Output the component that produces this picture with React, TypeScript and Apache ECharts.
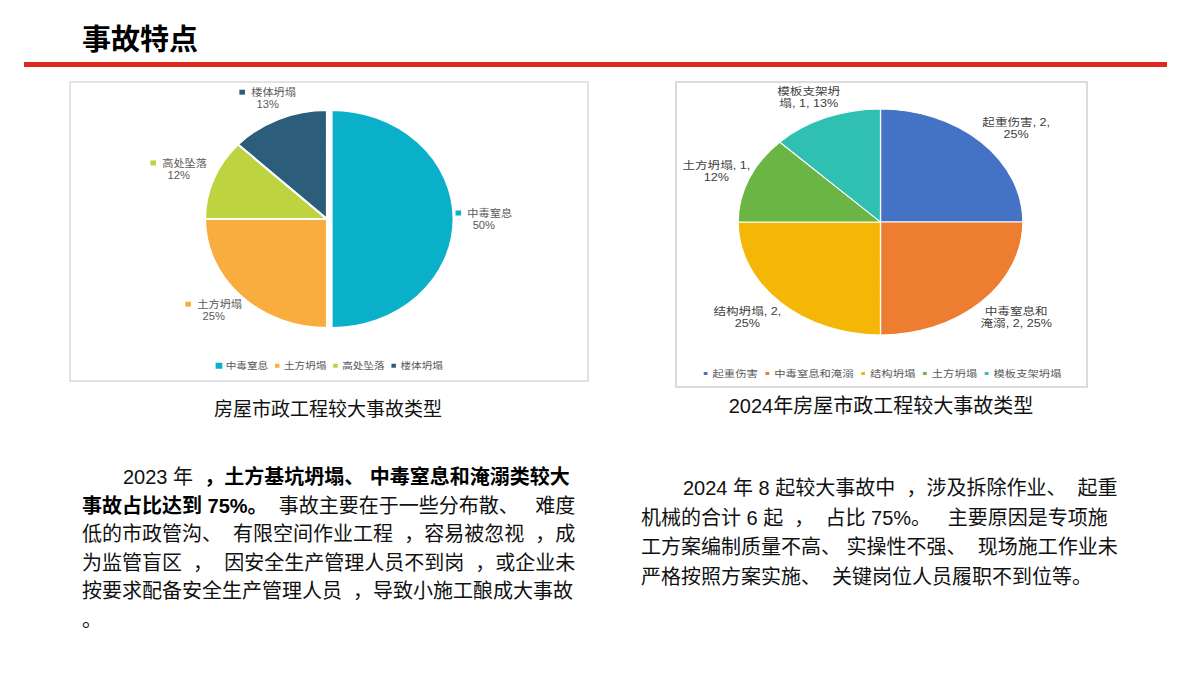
import React, { useEffect, useRef } from 'react';
import * as echarts from 'echarts';

// ---------- data ----------
const pageTitle = '事故特点';

const types2023 = ['中毒窒息', '土方坍塌', '高处坠落', '楼体坍塌'];
const share2023 = [50, 25, 12, 13];
const colors2023 = ['#0AAFC9', '#F9AD3E', '#BDD33F', '#2C5E7C'];
const pulled2023 = [true, false, false, false];
const caption2023 = '房屋市政工程较大事故类型';

const types2024 = ['起重伤害', '中毒窒息和淹溺', '结构坍塌', '土方坍塌', '模板支架坍塌'];
const counts2024 = [2, 2, 2, 1, 1];
const share2024 = [25, 25, 25, 12, 13];
const colors2024 = ['#4472C4', '#ED7D31', '#F4B708', '#6BB544', '#2FC0B2'];
const caption2024 = '2024年房屋市政工程较大事故类型';

// paragraph lines: [text, bold]
const notes2023: [string, boolean][][] = [
  [['2023 年  ', false], ['，土方基坑坍塌、 中毒窒息和淹溺类较大', true]],
  [['事故占比达到 75%。', true], ['  事故主要在于一些分布散、   难度', false]],
  [['低的市政管沟、  有限空间作业工程  ，容易被忽视  ，成', false]],
  [['为监管盲区  ，  因安全生产管理人员不到岗  ，或企业未', false]],
  [['按要求配备安全生产管理人员  ，导致小施工酿成大事故', false]],
  [['。', false]],
];
const notes2024: string[] = [
  '2024 年 8 起较大事故中  ，涉及拆除作业、  起重',
  '机械的合计 6 起  ，  占比 75%。   主要原因是专项施',
  '工方案编制质量不高、 实操性不强、  现场施工作业未',
  '严格按照方案实施、  关键岗位人员履职不到位等。',
];

// ---------- helpers ----------
const CJK = '"Liberation Sans", "Noto Sans CJK SC", sans-serif';
const NONE = 'rgba(0,0,0,0)';

function midAngles(values: number[], start = 90): number[] {
  const total = values.reduce((a, b) => a + b, 0);
  let acc = 0;
  return values.map((v) => {
    const m = start - (360 * (acc + v / 2)) / total;
    acc += v;
    return (m * Math.PI) / 180;
  });
}

function useChart(ref: React.RefObject<HTMLDivElement | null>, option: any) {
  useEffect(() => {
    if (!ref.current) return;
    const chart = echarts.init(ref.current, null, { renderer: 'svg' });
    chart.setOption(option);
    return () => chart.dispose();
  }, []);
}

// ---------- geometry ----------
// each pie pane is stretched horizontally to give the oval look
const L = { left: 70, top: 82, w: 518, h: 299, sx: 1.12 };
const R = { left: 676, top: 82, w: 411, h: 305, sx: 1.26 };

const lCenter = [229.5, 137];
const lRadius = 109;
const lOffset = 4; // the pulled-out slice sits this far to the right
const lLabelR = 136;
const lNudge = [[0, 0], [-5, -5], [-6, 0], [1, 4]];

const rCenter = [162.3, 140];
const rRadius = 113;
const rLabelR = 141;
const rNudge = [[8, 6], [8, -4], [-6, -4], [0, 3], [-3, 6]];
const rBreaks = [8, 5, 8, 8, 5];

function mainOption() {
  const graphics: any[] = [];
  graphics.push({
    type: 'text',
    x: 82,
    y: 40,
    style: {
      text: pageTitle,
      fill: '#000',
      font: `bold 29px ${CJK}`,
      verticalAlign: 'middle',
      textVerticalAlign: 'middle',
    },
  });
  graphics.push({ type: 'rect', shape: { x: 24, y: 62, width: 1143, height: 5 }, style: { fill: '#DC2A1F' } });
  graphics.push({
    type: 'rect',
    shape: { x: L.left, y: L.top, width: L.w, height: L.h },
    style: { fill: '#fff', stroke: '#D5DBE3', lineWidth: 1.5 },
  });
  graphics.push({
    type: 'rect',
    shape: { x: R.left, y: R.top, width: R.w, height: R.h },
    style: { fill: '#fff', stroke: '#D0D0D0', lineWidth: 1.5 },
  });
  const caption = (text: string, x: number, y: number, size: number) => ({
    type: 'text',
    x,
    y,
    style: {
      text,
      fill: '#111',
      font: `${size}px ${CJK}`,
      align: 'center',
      textAlign: 'center',
      verticalAlign: 'middle',
      textVerticalAlign: 'middle',
    },
  });
  graphics.push(caption(caption2023, 328, 409, 19));
  graphics.push(caption(caption2024, 881, 406, 20));

  notes2023.forEach((segs, i) => {
    const text = segs.map(([t, b]) => `{${b ? 'b' : 'n'}|${t}}`).join('');
    graphics.push({
      type: 'text',
      x: i === 0 ? 123 : 82,
      y: 477 + i * 28.6,
      style: {
        text,
        fill: '#111',
        font: `20px ${CJK}`,
        verticalAlign: 'middle',
        textVerticalAlign: 'middle',
        rich: {
          n: { fontSize: 20, fontFamily: CJK, fill: '#111', color: '#111' },
          b: { fontSize: 20, fontFamily: CJK, fontWeight: 'bold', fill: '#000', color: '#000' },
        },
      },
    });
  });
  notes2024.forEach((t, i) => {
    graphics.push({
      type: 'text',
      x: i === 0 ? 683 : 641,
      y: 488 + i * 29.7,
      style: {
        text: t,
        fill: '#111',
        font: `20px ${CJK}`,
        verticalAlign: 'middle',
        textVerticalAlign: 'middle',
      },
    });
  });
  return { animation: false, graphic: graphics };
}

function leftOption() {
  const mids = midAngles(share2023);
  const rich: any = {
    t: { fontSize: 10, color: '#595959', fontFamily: CJK, lineHeight: 12, align: 'center' },
  };
  colors2023.forEach((c, i) => {
    rich['sq' + i] = { width: 5, height: 5, backgroundColor: c };
  });

  // two layers with the same data: the base layer draws the slices that stay in place,
  // the second layer, shifted right, draws the pulled-out slice
  const layer = (pulled: boolean) => {
    const center = [lCenter[0] + (pulled ? lOffset : 0), lCenter[1]];
    return {
      type: 'pie',
      center,
      radius: lRadius,
      startAngle: 90,
      clockwise: true,
      silent: true,
      emphasis: { disabled: true },
      labelLine: { show: false },
      label: {
        show: true,
        position: 'outside',
        width: 70,
        overflow: 'none',
        align: 'center',
        lineHeight: 12,
        fontSize: 10,
        color: '#595959',
        rich,
        formatter: (p: any) => `{sq${p.dataIndex}|}{t|  ${p.name}}\n{t|${share2023[p.dataIndex]}%}`,
      },
      labelLayout: (p: any) => {
        const i = p.dataIndex;
        const a = mids[i];
        return {
          x: center[0] + lLabelR * Math.cos(a) + lNudge[i][0],
          y: center[1] - lLabelR * Math.sin(a) + lNudge[i][1],
          align: 'center',
          verticalAlign: 'middle',
        };
      },
      data: types2023.map((name, i) => {
        const shown = pulled2023[i] === pulled;
        return {
          name,
          value: share2023[i],
          itemStyle: shown
            ? { color: colors2023[i], borderColor: '#fff', borderWidth: 2 }
            : { color: NONE, borderColor: NONE, borderWidth: 0 },
          label: { show: shown },
        };
      }),
    };
  };

  return {
    animation: false,
    legend: {
      top: 274,
      left: 'center',
      icon: 'rect',
      itemWidth: 6,
      itemHeight: 6,
      itemGap: 4,
      selectedMode: false,
      textStyle: { fontSize: 9.5, color: '#595959', fontFamily: CJK, padding: [0, 0, 0, -2] },
      data: types2023.map((name, i) => ({ name, itemStyle: { color: colors2023[i] } })),
    },
    series: [layer(false), layer(true)],
  };
}

function rightOption() {
  const mids = midAngles(counts2024);
  return {
    animation: false,
    legend: {
      top: 282,
      left: 'center',
      icon: 'rect',
      itemWidth: 5,
      itemHeight: 5,
      itemGap: 4,
      selectedMode: false,
      textStyle: { fontSize: 9, color: '#595959', fontFamily: CJK, padding: [0, 0, 0, -2] },
      data: types2024,
    },
    series: [
      {
        type: 'pie',
        center: rCenter,
        radius: rRadius,
        startAngle: 90,
        clockwise: true,
        emphasis: { disabled: true },
        itemStyle: { borderColor: '#fff', borderWidth: 1 },
        labelLine: { show: false },
        label: {
          show: true,
          position: 'outside',
          width: 80,
          overflow: 'none',
          align: 'center',
          fontSize: 10,
          lineHeight: 12,
          color: '#404040',
          fontFamily: CJK,
          formatter: (p: any) => {
            const i = p.dataIndex;
            const s = `${p.name}, ${counts2024[i]}, ${share2024[i]}%`;
            const b = rBreaks[i];
            return s.slice(0, b) + '\n' + s.slice(b).trim();
          },
        },
        labelLayout: (p: any) => {
          const i = p.dataIndex;
          const a = mids[i];
          return {
            x: rCenter[0] + rLabelR * Math.cos(a) + rNudge[i][0],
            y: rCenter[1] - rLabelR * Math.sin(a) + rNudge[i][1],
            align: 'center',
            verticalAlign: 'middle',
          };
        },
        data: types2024.map((name, i) => ({
          name,
          value: counts2024[i],
          itemStyle: { color: colors2024[i] },
        })),
      },
    ],
  };
}

export default function App() {
  const mainRef = useRef<HTMLDivElement>(null);
  const leftRef = useRef<HTMLDivElement>(null);
  const rightRef = useRef<HTMLDivElement>(null);

  useChart(mainRef, mainOption());
  useChart(leftRef, leftOption());
  useChart(rightRef, rightOption());

  const pane = (box: typeof L): React.CSSProperties => ({
    position: 'absolute',
    left: box.left,
    top: box.top,
    width: box.w / box.sx,
    height: box.h,
    transform: `scaleX(${box.sx})`,
    transformOrigin: '0 0',
  });

  return (
    <div style={{ position: 'absolute', left: 0, top: 0, width: 1200, height: 675, background: '#fff' }}>
      <div ref={mainRef} style={{ position: 'absolute', left: 0, top: 0, width: 1200, height: 675 }} />
      <div ref={leftRef} style={pane(L)} />
      <div ref={rightRef} style={pane(R)} />
    </div>
  );
}
